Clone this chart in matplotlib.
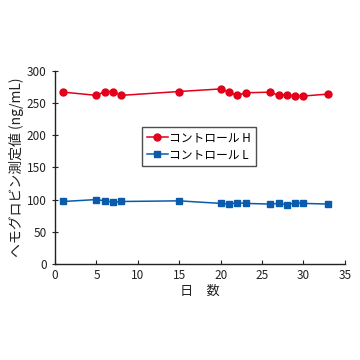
import matplotlib
matplotlib.use("Agg")
import matplotlib.pyplot as plt

plt.rcParams['font.family'] = ['Noto Sans CJK JP', 'DejaVu Sans']

days = [1, 5, 6, 7, 8, 15, 20, 21, 22, 23, 26, 27, 28, 29, 30, 33]
ctrl_h = [267, 262, 268, 268, 262, 268, 272, 267, 262, 266, 267, 262, 263, 261, 261, 264]
ctrl_l = [97, 100, 98, 96, 97, 98, 94, 93, 95, 94, 93, 94, 92, 95, 94, 93]
label_h = "コントロール H"
label_l = "コントロール L"
xlabel = "日　数"
ylabel = "ヘモグロビン測定値 (ng/mL)"

red = "#e2001a"
blue = "#0a5bab"

fig = plt.figure(figsize=(3.6, 3.6), dpi=100)
ax = fig.add_axes([0.153, 0.267, 0.805, 0.536])
ax.plot(days, ctrl_h, color=red, marker='o', markersize=5, linewidth=1.1, label=label_h)
ax.plot(days, ctrl_l, color=blue, marker='s', markersize=4.5, linewidth=1.1, label=label_l)

ax.set_xlim(0, 35)
ax.set_ylim(0, 300)
ax.set_xticks(range(0, 36, 5))
ax.set_yticks(range(0, 301, 50))
for s in ['top', 'right']:
    ax.spines[s].set_visible(False)
for s in ['left', 'bottom']:
    ax.spines[s].set_linewidth(1.0)
    ax.spines[s].set_color('#222222')
ax.tick_params(axis='x', direction='in', length=3, labelsize=8.5, colors='#222222', pad=4)
ax.tick_params(axis='y', direction='inout', length=5, labelsize=8.5, colors='#222222')
ax.set_xlabel(xlabel, fontsize=9.5, color='#222222', labelpad=2)
ax.set_ylabel(ylabel, fontsize=10, color='#222222', labelpad=2)

leg = ax.legend(loc='upper left', bbox_to_anchor=(0.3, 0.71), frameon=True, fancybox=False,
                edgecolor='#222222', fontsize=8.5, handlelength=1.8, handletextpad=0.1,
                borderpad=0.4, labelspacing=0.3, borderaxespad=0)
leg.get_frame().set_linewidth(1.0)

fig.savefig("out.png", dpi=100)
